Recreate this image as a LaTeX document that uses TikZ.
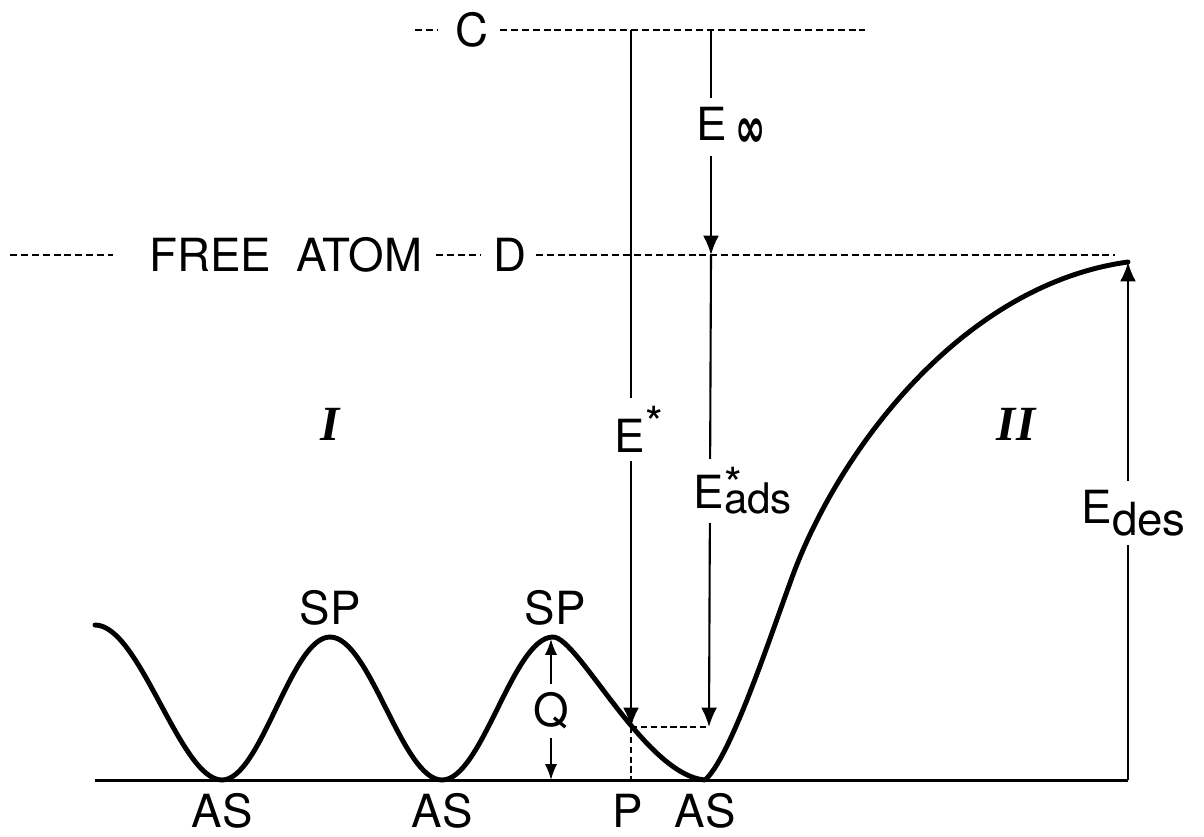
\documentclass[tikz,border=0pt]{standalone}
\usepackage{fontspec}
\usepackage{graphicx}
\setmainfont{TeX Gyre Heros}
\newfontfamily\romfont{Liberation Serif}
\newfontfamily\symfont{DejaVu Sans}
\usetikzlibrary{arrows.meta}

\begin{document}
\begin{tikzpicture}[
    x=0.02cm, y=-0.02cm,
    curve/.style={line width=2.8pt, line cap=round, line join=round},
    ground/.style={line width=1.7pt},
    level/.style={line width=1pt, dash pattern=on 4pt off 2.2pt},
    guide/.style={line width=0.9pt, dash pattern=on 3.6pt off 2pt},
    arrow/.style={line width=1.2pt, -{Latex[length=11pt,width=9pt]}},
    twoway/.style={line width=1.1pt, {Latex[length=9pt,width=7pt]}-{Latex[length=9pt,width=7pt]}},
    lbl/.style={font=\fontsize{26}{30}\selectfont, inner sep=0pt},
    tag/.style={lbl, fill=white, inner xsep=3pt, inner ysep=5pt},
    region/.style={font=\romfont\bfseries\itshape\fontsize{28}{30}\selectfont, inner sep=0pt}
]
    \useasboundingbox (0,0) rectangle (1204,836);

    \draw[level] (415,30) -- (438,30);
    \draw[level] (500,30) -- (865,30);
    \draw[level] (10,255) -- (113,255);
    \draw[level] (436,255) -- (480,255);
    \draw[level] (536,255) -- (1115,255);

    \node[lbl] (C) at (472,30) {C};
    \node[lbl, anchor=west] (free) at (149,255) {FREE\hspace{0.55em}ATOM};
    \node[lbl] (D) at (510,255) {D};

    \coordinate (cTopA) at (631,30);
    \coordinate (cTopB) at (711,30);
    \coordinate (dLevB) at (711,255);
    \coordinate (ptP) at (631,727);
    \coordinate (ptR) at (709,727);
    \coordinate (footP) at (631,780);
    \coordinate (qTop) at (551,639);
    \coordinate (qBot) at (551,780);
    \coordinate (desBot) at (1128,780);
    \coordinate (desTop) at (1128,262);

    \draw[ground] (95,780) -- (desBot);
    \draw[guide] (ptP) -- (ptR);
    \draw[guide] (ptP) -- (footP);

    \draw[arrow] (cTopA) -- (ptP);
    \draw[arrow] (cTopB) -- (dLevB);
    \draw[arrow] (dLevB) -- (ptR);
    \draw[twoway] (qTop) -- (qBot);
    \draw[arrow] (desBot) -- (desTop);

    \draw[curve] (95,625) .. controls (140,625) and (180,780) .. (222,780)
        .. controls (261,780) and (291,637) .. (330,637)
        .. controls (370,637) and (402,780) .. (442,780)
        .. controls (482,780) and (513,637) .. (553,637)
        .. controls (578,637) and (645,775) .. (705,780)
        .. controls (730,758) and (768,643) .. (790,583)
        .. controls (835,455) and (960,285) .. (desTop);

    \node[tag, anchor=base west] (Einf) at (691,140) {E\hspace{5pt}\raisebox{-4pt}{\scalebox{1.15}[1.8]{\symfont\bfseries\fontsize{18}{18}\selectfont ∞}}};
    \node[tag, anchor=base west] (Estar) at (609,452) {E\raisebox{7pt}{*}};
    \node[tag, anchor=base west] (Eads) at (688,508) {E\rlap{\raisebox{4pt}{*}}\raisebox{-3pt}{\fontsize{24}{28}\selectfont ads}};
    \node[tag, anchor=base west] (Edes) at (1076,523) {E\raisebox{-7pt}{des}};
    \node[tag] (Q) at (551,711) {Q};

    \node[lbl] (sp1) at (330,608) {SP};
    \node[lbl] (sp2) at (555,608) {SP};
    \node[lbl] (as1) at (222,811) {AS};
    \node[lbl] (as2) at (442,811) {AS};
    \node[lbl] (as3) at (705,811) {AS};
    \node[lbl] (P) at (628,811) {P};

    \node[region] (regI) at (330,424) {I};
    \node[region] (regII) at (1016,424) {II};
\end{tikzpicture}
\end{document}
